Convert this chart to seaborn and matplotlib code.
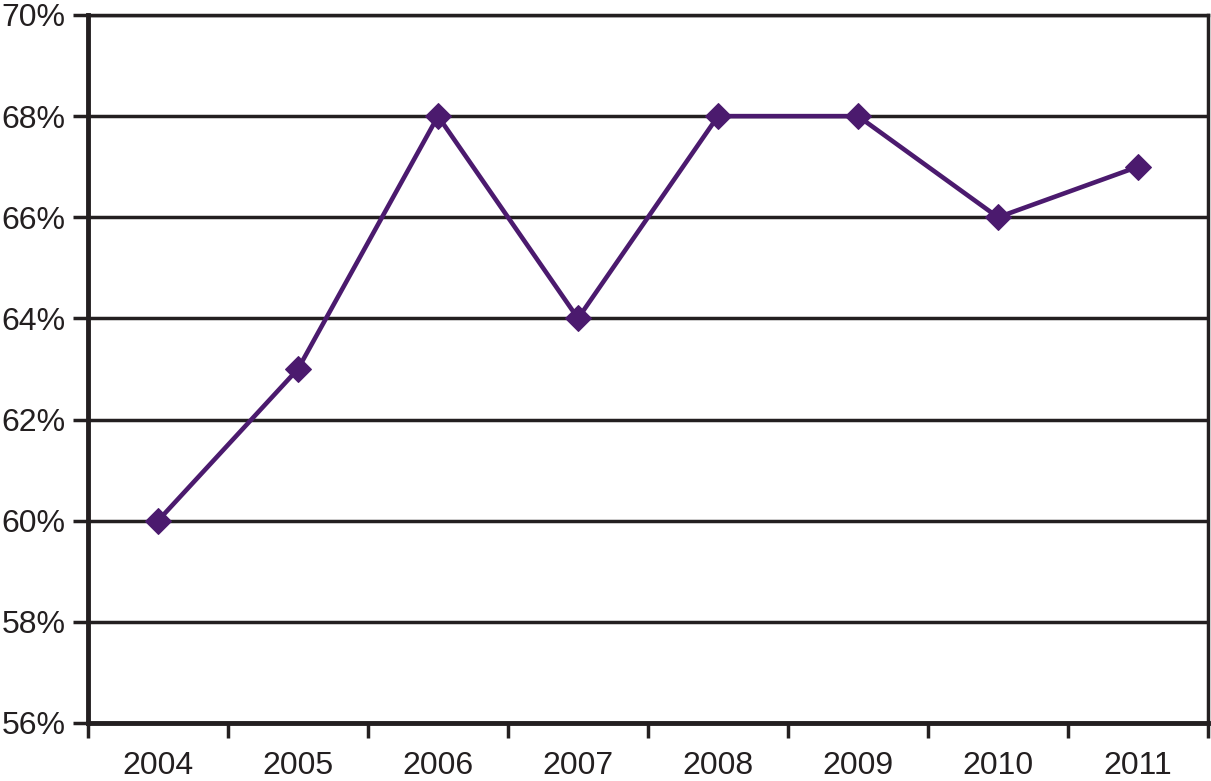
import matplotlib
matplotlib.use("Agg")
import matplotlib.pyplot as plt
import seaborn as sns
import pandas as pd
from matplotlib.ticker import FixedLocator, FuncFormatter

years = ["2004", "2005", "2006", "2007", "2008", "2009", "2010", "2011"]
values = [60, 63, 68, 64, 68, 68, 66, 67]
yticks = [56, 58, 60, 62, 64, 66, 68, 70]

sns.set_style("white")
plt.rcParams['font.family'] = ['Liberation Sans', 'DejaVu Sans']

df = pd.DataFrame({"pos": range(len(years)), "value": values})

fig = plt.figure(figsize=(12.11, 7.81), dpi=100)
ax = fig.add_axes([88/1211, 58/781, (1208-88)/1211, (723-15)/781])

line_color = "#4B1A6E"
sns.lineplot(data=df, x="pos", y="value", ax=ax, color=line_color, linewidth=3.3,
             marker="D", markersize=13, markeredgecolor=line_color, zorder=5)

ax.set_xlim(-0.5, len(years) - 0.5)
ax.set_ylim(56, 70)
ax.set_xlabel("")
ax.set_ylabel("")

ax.set_yticks(yticks)
ax.yaxis.set_major_formatter(FuncFormatter(lambda v, p: f"{int(v)}%"))
ax.set_xticks(range(len(years)))
ax.set_xticklabels(years)
ax.xaxis.set_minor_locator(FixedLocator([i - 0.5 for i in range(len(years) + 1)]))

ax.tick_params(axis="x", which="both", bottom=True)
ax.tick_params(axis="y", which="both", left=True)
ax.tick_params(axis="x", which="major", length=0, pad=20, labelsize=23, colors="#231F20")
ax.tick_params(axis="x", which="minor", length=11, width=2.5, direction="out", color="#231F20")
ax.tick_params(axis="y", which="major", length=11, width=2.5, direction="out", pad=5,
               labelsize=23, colors="#231F20")

for v in yticks:
    ax.axhline(v, color="#231F20", linewidth=2.5, zorder=1)

for side in ["left", "bottom"]:
    ax.spines[side].set_linewidth(3.5)
    ax.spines[side].set_color("#231F20")
for side in ["top", "right"]:
    ax.spines[side].set_linewidth(2.5)
    ax.spines[side].set_color("#231F20")

fig.savefig("out.png", dpi=100)
